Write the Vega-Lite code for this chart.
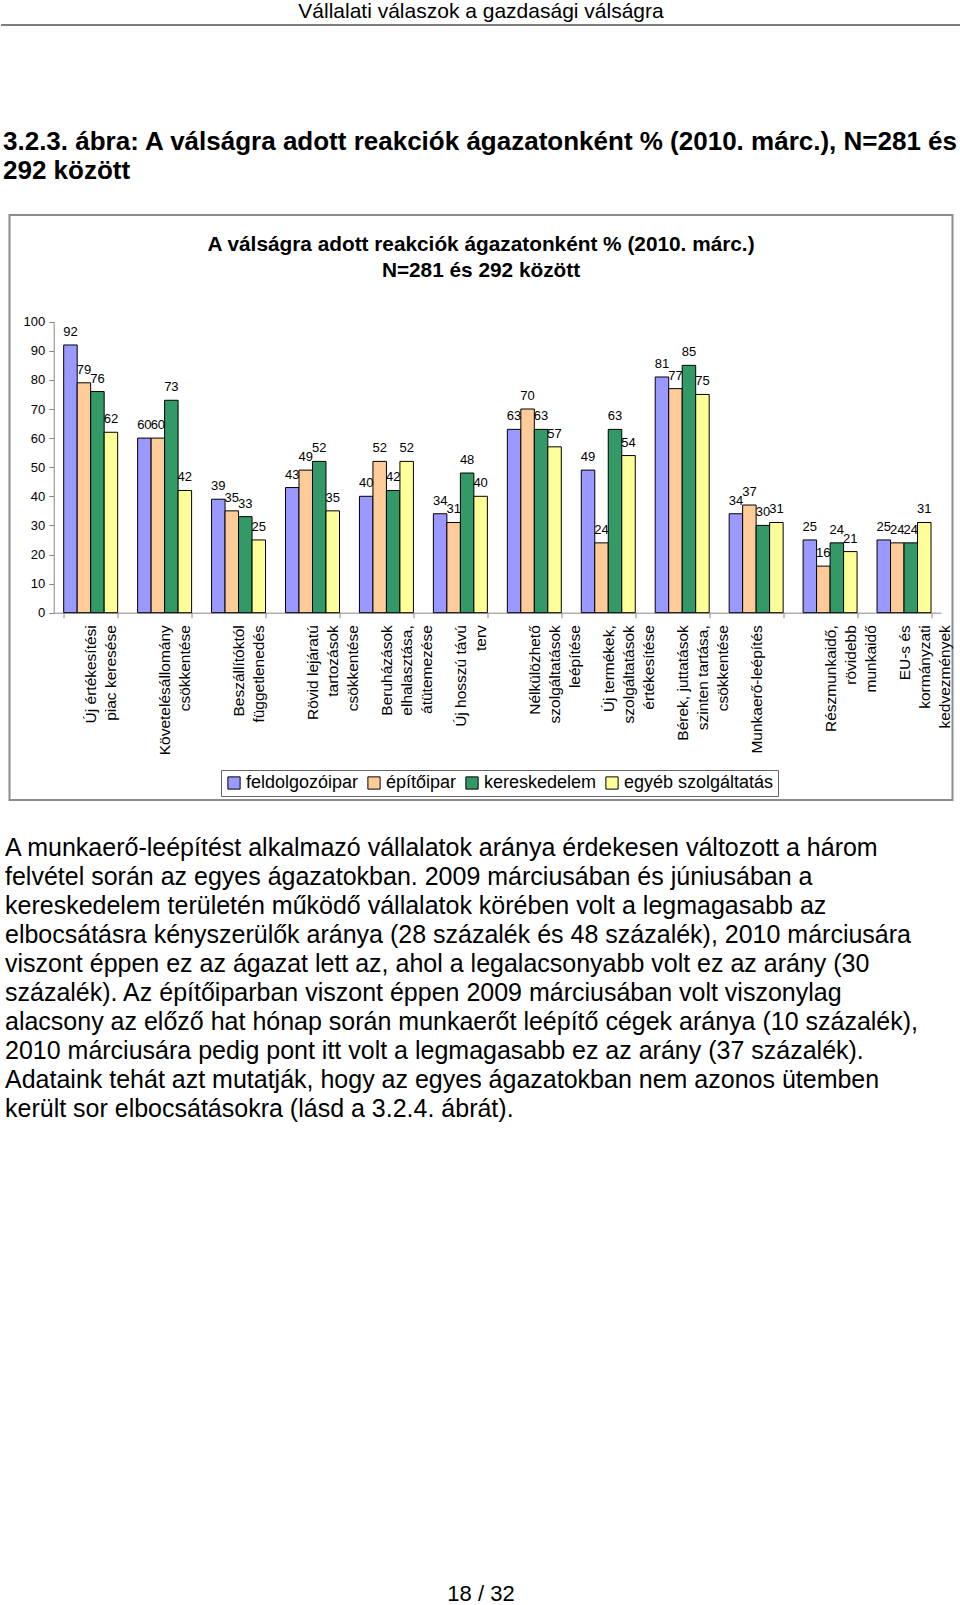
{
  "$schema": "https://vega.github.io/schema/vega-lite/v6.json",
  "background": "white",
  "padding": 0,
  "bounds": "flush",
  "spacing": 0,
  "center": true,
  "config": {
    "view": {"stroke": null},
    "font": "Liberation Sans",
    "text": {"font": "Liberation Sans", "color": "black"},
    "axis": {"labelFont": "Liberation Sans", "labelColor": "black"},
    "legend": {"labelFont": "Liberation Sans", "labelColor": "black"}
  },
  "vconcat": [
    {
      "width": 960,
      "height": 24,
      "data": {"values": [{"t": "Vállalati válaszok a gazdasági válságra"}]},
      "layer": [
        {
          "mark": {"type": "text", "fontSize": 21, "baseline": "middle", "align": "center", "dy": -1.5},
          "encoding": {"text": {"field": "t"}}
        },
        {
          "mark": {"type": "rule", "color": "black", "strokeWidth": 1.2},
          "encoding": {"y": {"datum": 0, "type": "quantitative", "scale": {"domain": [0, 1], "nice": false, "zero": false}, "axis": null}}
        }
      ]
    },
    {
      "width": 960,
      "height": 190,
      "data": {"values": [
        {"line": 1, "t": "3.2.3. ábra: A válságra adott reakciók ágazatonként % (2010. márc.), N=281 és"},
        {"line": 2, "t": "292 között"}
      ]},
      "mark": {"type": "text", "fontSize": 26, "fontWeight": "bold", "align": "left", "baseline": "middle", "dx": 2},
      "encoding": {
        "x": {"datum": 0, "type": "quantitative", "scale": {"domain": [0, 1], "nice": false, "zero": false}, "axis": null},
        "y": {"field": "line", "type": "quantitative", "scale": {"domain": [3.548, -3.119], "nice": false, "zero": false}, "axis": null},
        "text": {"field": "t"}
      }
    },
    {
      "width": 943,
      "height": 585,
      "view": {"stroke": "#8c8c8c", "strokeWidth": 2},
      "title": {
        "text": ["A válságra adott reakciók ágazatonként % (2010. márc.)", "N=281 és 292 között"],
        "font": "Liberation Sans",
        "fontSize": 20.8,
        "fontWeight": "bold",
        "color": "black",
        "lineHeight": 25.5,
        "anchor": "middle",
        "frame": "group",
        "offset": -66.5
      },
      "data": {"values": [
        {"cat": "Új értékesítési|piac keresése", "ag": "feldolgozóipar", "v": 92},
        {"cat": "Új értékesítési|piac keresése", "ag": "építőipar", "v": 79},
        {"cat": "Új értékesítési|piac keresése", "ag": "kereskedelem", "v": 76},
        {"cat": "Új értékesítési|piac keresése", "ag": "egyéb szolgáltatás", "v": 62},
        {"cat": "Követelésállomány|csökkentése", "ag": "feldolgozóipar", "v": 60},
        {"cat": "Követelésállomány|csökkentése", "ag": "építőipar", "v": 60},
        {"cat": "Követelésállomány|csökkentése", "ag": "kereskedelem", "v": 73},
        {"cat": "Követelésállomány|csökkentése", "ag": "egyéb szolgáltatás", "v": 42},
        {"cat": "Beszállítóktól|függetlenedés", "ag": "feldolgozóipar", "v": 39},
        {"cat": "Beszállítóktól|függetlenedés", "ag": "építőipar", "v": 35},
        {"cat": "Beszállítóktól|függetlenedés", "ag": "kereskedelem", "v": 33},
        {"cat": "Beszállítóktól|függetlenedés", "ag": "egyéb szolgáltatás", "v": 25},
        {"cat": "Rövid lejáratú|tartozások|csökkentése", "ag": "feldolgozóipar", "v": 43},
        {"cat": "Rövid lejáratú|tartozások|csökkentése", "ag": "építőipar", "v": 49},
        {"cat": "Rövid lejáratú|tartozások|csökkentése", "ag": "kereskedelem", "v": 52},
        {"cat": "Rövid lejáratú|tartozások|csökkentése", "ag": "egyéb szolgáltatás", "v": 35},
        {"cat": "Beruházások|elhalasztása,|átütemezése", "ag": "feldolgozóipar", "v": 40},
        {"cat": "Beruházások|elhalasztása,|átütemezése", "ag": "építőipar", "v": 52},
        {"cat": "Beruházások|elhalasztása,|átütemezése", "ag": "kereskedelem", "v": 42},
        {"cat": "Beruházások|elhalasztása,|átütemezése", "ag": "egyéb szolgáltatás", "v": 52},
        {"cat": "Új hosszú távú|terv", "ag": "feldolgozóipar", "v": 34},
        {"cat": "Új hosszú távú|terv", "ag": "építőipar", "v": 31},
        {"cat": "Új hosszú távú|terv", "ag": "kereskedelem", "v": 48},
        {"cat": "Új hosszú távú|terv", "ag": "egyéb szolgáltatás", "v": 40},
        {"cat": "Nélkülözhető|szolgáltatások|leépítése", "ag": "feldolgozóipar", "v": 63},
        {"cat": "Nélkülözhető|szolgáltatások|leépítése", "ag": "építőipar", "v": 70},
        {"cat": "Nélkülözhető|szolgáltatások|leépítése", "ag": "kereskedelem", "v": 63},
        {"cat": "Nélkülözhető|szolgáltatások|leépítése", "ag": "egyéb szolgáltatás", "v": 57},
        {"cat": "Új termékek,|szolgáltatások|értékesítése", "ag": "feldolgozóipar", "v": 49},
        {"cat": "Új termékek,|szolgáltatások|értékesítése", "ag": "építőipar", "v": 24},
        {"cat": "Új termékek,|szolgáltatások|értékesítése", "ag": "kereskedelem", "v": 63},
        {"cat": "Új termékek,|szolgáltatások|értékesítése", "ag": "egyéb szolgáltatás", "v": 54},
        {"cat": "Bérek, juttatások|szinten tartása,|csökkentése", "ag": "feldolgozóipar", "v": 81},
        {"cat": "Bérek, juttatások|szinten tartása,|csökkentése", "ag": "építőipar", "v": 77},
        {"cat": "Bérek, juttatások|szinten tartása,|csökkentése", "ag": "kereskedelem", "v": 85},
        {"cat": "Bérek, juttatások|szinten tartása,|csökkentése", "ag": "egyéb szolgáltatás", "v": 75},
        {"cat": "Munkaerő-leépítés", "ag": "feldolgozóipar", "v": 34},
        {"cat": "Munkaerő-leépítés", "ag": "építőipar", "v": 37},
        {"cat": "Munkaerő-leépítés", "ag": "kereskedelem", "v": 30},
        {"cat": "Munkaerő-leépítés", "ag": "egyéb szolgáltatás", "v": 31},
        {"cat": "Részmunkaidő,|rövidebb|munkaidő", "ag": "feldolgozóipar", "v": 25},
        {"cat": "Részmunkaidő,|rövidebb|munkaidő", "ag": "építőipar", "v": 16},
        {"cat": "Részmunkaidő,|rövidebb|munkaidő", "ag": "kereskedelem", "v": 24},
        {"cat": "Részmunkaidő,|rövidebb|munkaidő", "ag": "egyéb szolgáltatás", "v": 21},
        {"cat": "EU-s és|kormányzati|kedvezmények", "ag": "feldolgozóipar", "v": 25},
        {"cat": "EU-s és|kormányzati|kedvezmények", "ag": "építőipar", "v": 24},
        {"cat": "EU-s és|kormányzati|kedvezmények", "ag": "kereskedelem", "v": 24},
        {"cat": "EU-s és|kormányzati|kedvezmények", "ag": "egyéb szolgáltatás", "v": 31}
      ]},
      "encoding": {
        "x": {
          "field": "cat",
          "type": "nominal",
          "sort": null,
          "scale": {"range": [44.2, 931.5], "paddingInner": 0.27, "paddingOuter": 0.135},
          "axis": {
            "title": null,
            "orient": "bottom",
            "offset": -187.3,
            "labelAngle": 270,
            "labelAlign": "right",
            "labelBaseline": "middle",
            "labelExpr": "split(datum.label, '|')",
            "labelFontSize": 15.5,
            "labelLineHeight": 20,
            "labelPadding": 7,
            "labelLimit": 400,
            "labelOverlap": false,
            "tickSize": 5,
            "tickBand": "extent",
            "tickColor": "#888888",
            "domainColor": "#888888",
            "grid": false
          }
        },
        "xOffset": {
          "field": "ag",
          "type": "nominal",
          "sort": ["feldolgozóipar", "építőipar", "kereskedelem", "egyéb szolgáltatás"],
          "scale": {"paddingInner": 0, "paddingOuter": 0}
        },
        "y": {
          "field": "v",
          "type": "quantitative",
          "scale": {"domain": [0, 100], "range": [397.7, 106.7], "nice": false, "zero": false},
          "axis": {
            "title": null,
            "values": [0, 10, 20, 30, 40, 50, 60, 70, 80, 90, 100],
            "offset": -44.2,
            "grid": false,
            "tickSize": 5,
            "tickColor": "#888888",
            "domainColor": "#888888",
            "labelFontSize": 13,
            "labelPadding": 4
          }
        }
      },
      "layer": [
        {
          "mark": {"type": "bar", "stroke": "black", "strokeWidth": 1},
          "encoding": {
            "color": {
              "field": "ag",
              "type": "nominal",
              "sort": ["feldolgozóipar", "építőipar", "kereskedelem", "egyéb szolgáltatás"],
              "scale": {
                "domain": ["feldolgozóipar", "építőipar", "kereskedelem", "egyéb szolgáltatás"],
                "range": ["#9999FF", "#FFCC99", "#339966", "#FFFF99"]
              },
              "legend": {
                "title": null,
                "orient": "none",
                "legendX": 220,
                "legendY": 769,
                "direction": "horizontal",
                "columns": 4,
                "symbolType": "square",
                "symbolSize": 150,
                "symbolStrokeColor": "black",
                "symbolStrokeWidth": 1,
                "symbolOpacity": 1,
                "labelFontSize": 18,
                "labelOffset": 3,
                "columnPadding": 6,
                "padding": 4,
                "strokeColor": "#666666"
              }
            }
          }
        },
        {
          "mark": {"type": "text", "fontSize": 13, "baseline": "middle", "align": "center", "dy": -13},
          "encoding": {"text": {"field": "v"}}
        }
      ]
    },
    {
      "width": 960,
      "height": 351,
      "data": {"values": [
        {"line": 1, "t": "A munkaerő-leépítést alkalmazó vállalatok aránya érdekesen változott a három"},
        {"line": 2, "t": "felvétel során az egyes ágazatokban. 2009 márciusában és júniusában a"},
        {"line": 3, "t": "kereskedelem területén működő vállalatok körében volt a legmagasabb az"},
        {"line": 4, "t": "elbocsátásra kényszerülők aránya (28 százalék és 48 százalék), 2010 márciusára"},
        {"line": 5, "t": "viszont éppen ez az ágazat lett az, ahol a legalacsonyabb volt ez az arány (30"},
        {"line": 6, "t": "százalék). Az építőiparban viszont éppen 2009 márciusában volt viszonylag"},
        {"line": 7, "t": "alacsony az előző hat hónap során munkaerőt leépítő cégek aránya (10 százalék),"},
        {"line": 8, "t": "2010 márciusára pedig pont itt volt a legmagasabb ez az arány (37 százalék)."},
        {"line": 9, "t": "Adataink tehát azt mutatják, hogy az egyes ágazatokban nem azonos ütemben"},
        {"line": 10, "t": "került sor elbocsátásokra (lásd a 3.2.4. ábrát)."}
      ]},
      "mark": {"type": "text", "fontSize": 25, "align": "left", "baseline": "middle", "dx": 4},
      "encoding": {
        "x": {"datum": 0, "type": "quantitative", "scale": {"domain": [0, 1], "nice": false, "zero": false}, "axis": null},
        "y": {"field": "line", "type": "quantitative", "scale": {"domain": [11.465, -0.638], "nice": false, "zero": false}, "axis": null},
        "text": {"field": "t"}
      }
    },
    {
      "width": 960,
      "height": 455,
      "data": {"values": [{"t": "18 / 32"}]},
      "mark": {"type": "text", "fontSize": 22, "align": "center", "baseline": "middle"},
      "encoding": {
        "y": {"datum": 1, "type": "quantitative", "scale": {"domain": [1.02616, 0], "nice": false, "zero": false}, "axis": null},
        "text": {"field": "t"}
      }
    }
  ]
}
